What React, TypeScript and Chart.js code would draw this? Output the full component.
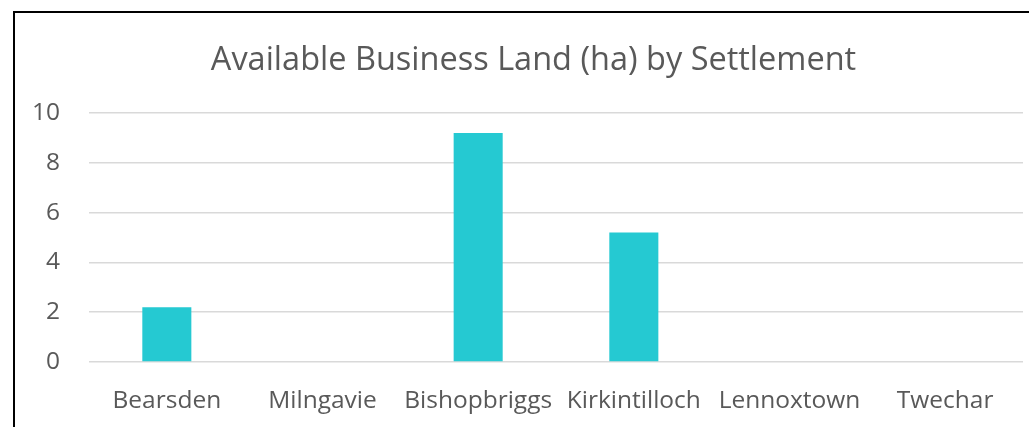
import React, { useEffect, useRef } from "react";
import { Chart, registerables } from "chart.js";

Chart.register(...registerables);

const categories = ["Bearsden", "Milngavie", "Bishopbriggs", "Kirkintilloch", "Lennoxtown", "Twechar"];
const landHa = [2.2, 0, 9.2, 5.2, 0, 0];
const yTicks = [0, 2, 4, 6, 8, 10];
const titleText = "Available Business Land (ha) by Settlement";

const FONT = "'Open Sans', 'Liberation Sans', sans-serif";

const titlePlugin = {
  id: "centredTitle",
  afterDraw(chart: any) {
    const ctx = chart.ctx;
    ctx.save();
    ctx.font = `normal 32.5px ${FONT}`;
    ctx.fillStyle = "#595959";
    ctx.textAlign = "center";
    ctx.textBaseline = "middle";
    ctx.fillText(titleText, 533.5, 60.5);
    ctx.restore();
  },
};

export default function App() {
  const ref = useRef<HTMLCanvasElement | null>(null);

  useEffect(() => {
    document.documentElement.style.overflow = "hidden";
    document.body.style.overflow = "hidden";
    const canvas = ref.current;
    if (!canvas) return;
    const chart = new Chart(canvas, {
      type: "bar",
      data: {
        labels: categories,
        datasets: [
          {
            label: "Available Business Land (ha)",
            data: landHa,
            backgroundColor: "#25C9D2",
            borderWidth: 0,
            categoryPercentage: 1,
            barPercentage: 0.315,
          },
        ],
      },
      options: {
        animation: false,
        responsive: false,
        maintainAspectRatio: false,
        layout: { padding: { left: 20, right: 6, top: 113, bottom: 0 } },
        plugins: {
          legend: { display: false },
          tooltip: { enabled: false },
          title: { display: false },
        },
        scales: {
          x: {
            grid: { display: false, drawTicks: false },
            border: { display: false },
            ticks: {
              color: "#595959",
              font: { family: FONT, size: 24.5 },
              padding: 24,
              maxRotation: 0,
              autoSkip: false,
            },
            afterFit: (s: any) => {
              s.height = 65;
            },
          },
          y: {
            min: 0,
            max: 10,
            afterBuildTicks: (s: any) => {
              s.ticks = yTicks.map((v) => ({ value: v }));
            },
            grid: { color: "#d9d9d9", lineWidth: 1.5, drawTicks: false },
            border: { display: false },
            ticks: {
              color: "#595959",
              font: { family: FONT, size: 24.5 },
              padding: 29,
            },
            afterFit: (s: any) => {
              s.width = 69;
            },
          },
        },
      },
      plugins: [titlePlugin],
    });
    return () => chart.destroy();
  }, []);

  return (
    <div style={{ position: "fixed", left: 0, top: 0, width: 1029, height: 427, overflow: "hidden", background: "#fff" }}>
      <div
        style={{
          position: "absolute",
          left: 13,
          top: 11,
          width: 1100,
          height: 500,
          border: "2px solid #000",
          boxSizing: "border-box",
        }}
      />
      <canvas ref={ref} width={1029} height={427} style={{ position: "absolute", left: 0, top: 0 }} />
    </div>
  );
}
